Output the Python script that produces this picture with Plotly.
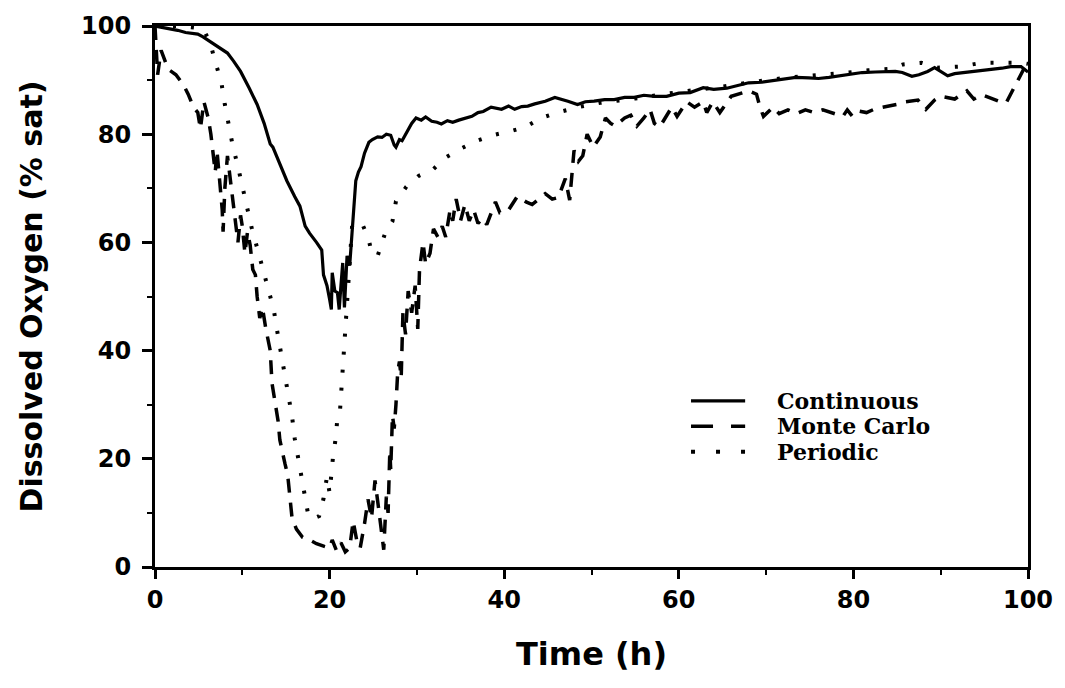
import plotly.graph_objects as go

# ---- data: dissolved oxygen (% saturation) vs time (h) ----
series_names = ["Continuous", "Monte Carlo", "Periodic"]

cont_t = [0, 1.5, 2.6, 3.5, 4.9, 5.5, 6.4, 7.3, 8.3, 9.0, 9.8, 10.8, 11.7, 12.5, 13.2, 13.5,
          14.3, 15.1, 16.0, 16.6, 17.2, 17.7, 18.5, 19.1, 19.3, 19.7, 20.0, 20.2, 20.3, 20.6,
          20.9, 21.1, 21.3, 21.5, 21.7, 22.0, 22.3, 22.5, 22.6, 22.8, 23.0, 23.3, 23.6, 24.0,
          24.5, 24.9, 25.5, 26.0, 26.5, 27.0, 27.4, 27.6, 28.0, 28.3, 28.9, 29.4, 29.9, 30.5,
          31.0, 31.7, 32.3, 32.8, 33.5, 34.1, 34.8, 35.6, 36.3, 37.0, 37.6, 38.5, 39.1, 39.7,
          40.5, 41.2, 42.0, 42.7, 43.5, 44.7, 45.8, 46.5, 47.3, 48.4, 49.3, 50.3, 51.5, 52.6,
          53.8, 54.9, 56.0, 57.2, 58.6, 60.0, 61.3, 62.8, 64.0, 65.5, 66.8, 68.0, 69.5, 71.0,
          72.5, 73.4, 74.9, 76.0, 77.2, 78.5, 80.0, 81.0, 82.5, 84.8, 85.6, 86.7, 87.5, 88.5,
          89.3, 90.0, 90.8, 91.6, 92.8, 94.2, 95.5, 97.0, 98.0, 99.2, 100]
cont_do = [100, 99.6, 99.2, 98.8, 98.5, 98, 97, 96, 95, 93.5, 91.6, 88.5, 85.5, 82, 78.2, 77.6,
           74.5, 71.4, 68.5, 66.7, 63, 61.7, 60, 58.6, 54, 52, 49.5, 47.6, 54.4, 51,
           50.7, 47.6, 52, 56.2, 48, 57.5, 55.7, 60.4, 63.6, 67.2, 71.4, 73, 74, 76.5,
           78.5, 79, 79.5, 79.4, 80, 79.8, 78, 77.6, 79, 78.8, 80.5, 82, 83, 82.6,
           83.2, 82.4, 82.2, 81.9, 82.5, 82.2, 82.6, 83, 83.3, 84, 84.2, 85, 84.8, 84.6,
           85.2, 84.6, 85.1, 85.2, 85.6, 86.1, 86.8, 86.5, 86.1, 85.5, 86, 86.1, 86.4, 86.4,
           86.8, 86.8, 87.2, 87, 87, 87.6, 87.7, 88.6, 88.3, 88.5, 89, 89.5, 89.6, 90,
           90.3, 90.5, 90.4, 90.3, 90.5, 90.8, 91.2, 91.4, 91.5, 91.6, 91.4, 90.7, 91, 91.6,
           92.3, 91.6, 90.8, 91.2, 91.4, 91.6, 91.9, 92.2, 92.5, 92.5, 91.5]

mc_t = [0, 0.3, 0.7, 1.5, 2.4, 3.3, 3.8, 4.4, 4.9, 5.2, 5.6, 6.1, 6.4, 6.6, 6.9, 7.1, 7.3, 7.5,
        7.7, 7.8, 8.0, 8.3, 8.6, 8.9, 9.2, 9.5, 9.8, 10.0, 10.3, 10.6, 10.9, 11.2, 11.5, 11.7,
        12.0, 12.3, 12.7, 13.0, 13.2, 13.4, 13.6, 13.9, 14.1, 14.3, 14.6, 14.9, 15.2, 15.4,
        15.7, 16.2, 16.9, 17.7, 18.5, 19.4, 20.0, 20.3, 20.8, 21.3, 21.8, 22.3, 22.7, 23.1,
        23.5, 24.0, 24.4, 24.8, 25.2, 25.6, 25.9, 26.2, 26.5, 26.7, 26.9, 27.0, 27.2, 27.4,
        27.6, 27.8, 28.0, 28.2, 28.4, 28.7, 29.0, 29.4, 29.8, 30.1, 30.3, 30.7, 31.0, 31.5,
        31.9, 32.4, 32.9, 33.3, 33.8, 34.1, 34.5, 35.0, 35.5, 36.0, 36.5, 37.0, 37.5, 38.0,
        39.0, 39.5, 40.5, 41.5, 42.5, 43.2, 44.7, 45.5, 46.2, 47.0, 47.5, 48.0, 48.5, 49.0,
        49.5, 50.2, 51.0, 51.6, 52.2, 52.7, 53.8, 54.5, 55.2, 56.0, 56.7, 57.2, 57.8, 58.6,
        59.2, 59.8, 60.9, 61.8, 62.8, 63.2, 63.9, 64.7, 66.0, 68.0, 68.9, 69.3, 69.7, 70.8,
        71.5, 72.5, 73.5, 74.5, 75.5, 76.5, 77.5, 78.8, 79.3, 79.9, 80.6, 81.5, 82.5, 84.0,
        85.0, 86.0, 87.4, 88.3, 89.3, 90.0, 91.6, 93.0, 93.8, 94.7, 95.8, 96.8, 97.5, 98.8,
        99.5, 100]
mc_do = [100, 91, 95.5, 92, 91, 89, 87.4, 85, 84, 81, 86, 83, 80, 77, 73, 77, 73, 69,
         66, 62, 70, 76, 72, 68, 63, 60, 65, 63, 58, 62, 59.5, 55, 54, 50,
         46, 48, 44, 41, 40, 34, 32, 30, 27, 23.5, 21, 19, 17, 13.5,
         9, 7, 5.5, 5, 4.3, 3.8, 3.5, 5, 3, 4.5, 2.8, 3.5, 8.5, 5,
         3.5, 8, 12.5, 9, 16, 11, 6.5, 3.2, 13, 10, 21.5, 18, 28, 25.6,
         30, 36, 38, 35, 47, 43, 51, 47, 52, 44, 55, 60, 56, 58,
         62.5, 61, 63, 61, 66, 64, 68, 64, 67, 64, 66, 63.5, 64.5, 63.3,
         67.5, 65.5, 66, 68.5, 67.5, 67, 69, 68, 68.3, 71.8, 67.8, 77, 75, 76,
         80, 77.6, 79.5, 83, 82, 81.5, 83, 83.5, 81.5, 83, 84.6, 82, 81.3, 83.3,
         85, 83.3, 86, 85, 86, 84, 86, 84, 87, 88, 87.4, 85, 83.3, 85,
         83.8, 84.5, 83.8, 84.5, 84, 84.5, 84, 83.3, 84.5, 83.3, 84.3, 84, 84.7, 85.2,
         85.5, 86, 86.3, 84.6, 86.3, 87, 86.5, 88, 86.5, 87.3, 86.7, 86, 85.8, 90,
         92, 90.6]

per_t = [0, 3, 5.5, 6.3, 6.9, 7.6, 8.0, 8.4, 8.9, 9.5, 10.0, 10.5, 11.1, 11.7, 12.3, 13.0,
         13.6, 14.0, 14.4, 14.9, 15.2, 15.7, 16.0, 16.4, 16.9, 17.2, 17.6, 18.2, 18.8, 19.3,
         19.7, 20.0, 20.2, 20.4, 20.7, 20.9, 21.2, 21.3, 21.4, 21.5, 21.6, 21.8, 22.0, 22.4,
         22.6, 23.3, 23.8, 24.2, 24.5, 24.8, 25.5, 26.3, 27.2, 27.6, 28.8, 30.2, 31.8, 33.2,
         35.0, 36.9, 38.9, 40.8, 42.4, 44.2, 46.3, 48.5, 51.0, 55.0, 60.0, 65.0, 70.0, 74.0,
         77.0, 79.4, 81.7, 84.4, 85.7, 87.8, 89.7, 92.2, 94.7, 97.0, 99.3, 100]
per_do = [100, 100, 99.5, 97, 93.4, 89.6, 85.5, 81.9, 77.9, 74, 70.3, 66.3, 62.5, 59, 55.5, 51.5,
          47.6, 43.6, 39.7, 35.7, 31.9, 27.8, 23.8, 20.0, 15.9, 12.1, 9.2, 9.0, 9.4, 12.6,
          16.7, 13.7, 17.8, 20.5, 23.8, 27.7, 29.1, 31.7, 33, 35.7, 39.7, 43.8, 50, 58,
          63.6, 63.5, 63.2, 61.7, 60.4, 58.1, 57.5, 61.4, 63.9, 67.6, 70.3, 72.3, 73.4, 75.6,
          77.3, 78.8, 79.9, 80.6, 81.3, 83.0, 84.1, 85.0, 85.8, 86.6, 87.8, 88.8, 90, 90.7,
          91, 91.4, 91.8, 92.1, 92.9, 93.2, 92.3, 92.5, 93.2, 93.2, 93.2, 93]

x_ticks = [0, 20, 40, 60, 80, 100]
y_ticks = [0, 20, 40, 60, 80, 100]

# ---- styles ----
INK = "black"
TICK_FONT = dict(family="DejaVu Sans", size=24, color=INK, weight="bold")
TITLE_FONT = dict(family="DejaVu Sans", size=30, color=INK, weight="bold")
XTITLE_FONT = dict(family="DejaVu Sans", size=32, color=INK, weight="bold")
KEY_FONT = dict(family="DejaVu Serif", size=22, color=INK, weight="bold")

styles = [
    dict(color=INK, width=3.2),
    dict(color=INK, width=3.5, dash="14px,10px"),
    dict(color=INK, width=4, dash="3px,15px"),
]

fig = go.Figure()
for name, t, do, ln in zip(series_names, [cont_t, mc_t, per_t],
                           [cont_do, mc_do, per_do], styles):
    fig.add_trace(go.Scatter(x=t, y=do, mode="lines", name=name, line=ln,
                             showlegend=False))

axis_common = dict(
    showline=True, linecolor=INK, linewidth=3, mirror=True,
    showgrid=False, zeroline=False,
    ticks="outside", tickcolor=INK, tickwidth=3,
    tickfont=TICK_FONT,
)

fig.update_xaxes(
    range=[0, 100], tickvals=x_ticks, ticklen=9,
    minor=dict(dtick=10, ticks="outside", ticklen=5, tickwidth=2, tickcolor=INK),
    title=dict(text="Time (h)", font=XTITLE_FONT, standoff=30),
    **axis_common,
)
fig.update_yaxes(
    range=[0, 100], tickvals=y_ticks, ticklen=10, ticklabelstandoff=6,
    minor=dict(dtick=10, ticks="outside", ticklen=5, tickwidth=2, tickcolor=INK),
    title=dict(text="Dissolved Oxygen (% sat)", font=TITLE_FONT, standoff=30),
    **axis_common,
)

# ---- key drawn inside the plot area ----
key_x0, key_x1, key_text_x = 0.614, 0.676, 0.71
key_rows = [0.307, 0.260, 0.213]
shapes = []
annotations = []
for name, ln, ky in zip(series_names, styles, key_rows):
    sample = dict(color=ln["color"], width=ln["width"])
    if "dash" in ln:
        sample["dash"] = "22px,18px" if ln["dash"].startswith("14") else "4px,21px"
    shapes.append(dict(type="line", xref="paper", yref="paper",
                       x0=key_x0, x1=key_x1, y0=ky, y1=ky, line=sample))
    annotations.append(dict(xref="paper", yref="paper", x=key_text_x, y=ky,
                            text=name, showarrow=False, xanchor="left",
                            yanchor="middle", font=KEY_FONT))

fig.update_layout(
    width=1065, height=688,
    margin=dict(l=155, r=29, t=20, b=121),
    paper_bgcolor="white", plot_bgcolor="white",
    shapes=shapes, annotations=annotations,
    showlegend=False,
)

fig.write_html("out.html")
